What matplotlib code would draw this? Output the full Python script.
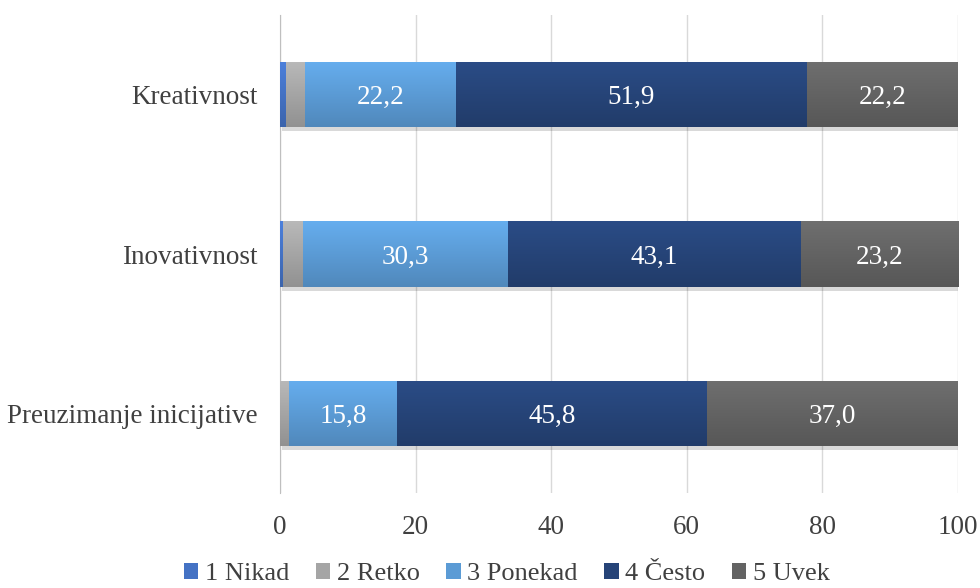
import numpy as np
import matplotlib.pyplot as plt
from matplotlib.colors import to_rgb
from matplotlib import transforms

plt.rcParams['font.family'] = ['Liberation Serif', 'DejaVu Serif']

categories = ["Preuzimanje inicijative", "Inovativnost", "Kreativnost"]
labels = ["1 Nikad", "2 Retko", "3 Ponekad", "4 Često", "5 Uvek"]
nikad = [0.0, 0.5, 0.9]
retko = [1.4, 2.9, 2.8]
ponekad = [15.8, 30.3, 22.2]
cesto = [45.8, 43.1, 51.9]
uvek = [37.0, 23.2, 22.2]
series = [nikad, retko, ponekad, cesto, uvek]
colors = ["#4472c4", "#a5a5a5", "#5b9bd5", "#264478", "#636363"]
show_value = [False, False, True, True, True]

fig = plt.figure(figsize=(9.8, 5.88), dpi=100)
ax = fig.add_axes([280 / 980, 95 / 588, 678 / 980, 478 / 588])

def shade(c, f):
    r = np.array(to_rgb(c))
    return np.clip(r * f, 0, 1)

grad = np.linspace(0, 1, 64)[:, None]
y = np.arange(len(categories))
h = 0.41
left = np.zeros(len(categories))
for vals, col, lab, show in zip(series, colors, labels, show_value):
    vals = np.array(vals)
    # soft drop shadow under each segment
    shadow_tr = ax.transData + transforms.ScaledTranslation(2 / 100, -4 / 100, fig.dpi_scale_trans)
    ax.barh(y, vals, left=left, height=h, color="#000000", alpha=0.15,
            transform=shadow_tr, zorder=1, linewidth=0)
    bars = ax.barh(y, vals, left=left, height=h, color=col, label=lab, zorder=2, linewidth=0)
    top = shade(col, 1.12)
    bot = shade(col, 0.88)
    img = top[None, None, :] * (1 - grad[:, :, None]) + bot[None, None, :] * grad[:, :, None]
    for b in bars:
        if b.get_width() <= 0:
            continue
        x0, y0 = b.get_x(), b.get_y()
        im = ax.imshow(img, extent=(x0, x0 + b.get_width(), y0, y0 + b.get_height()),
                       origin="upper", aspect="auto", zorder=3, interpolation="bilinear")
        im.set_clip_path(b)
    if show:
        for yi, l, v in zip(y, left, vals):
            ax.text(l + v / 2, yi, f"{v:.1f}".replace(".", ","), ha="center",
                    va="center_baseline", color="white", fontsize=19.5, zorder=4)
    left += vals

ax.set_xlim(0, 100)
ax.set_ylim(-0.5, 2.5)
ax.set_xticks(range(0, 101, 20))
ax.set_yticks(y)
ax.set_yticklabels(categories)
ax.xaxis.grid(True, color="#d9d9d9", linewidth=1)
ax.set_axisbelow(True)
for s in ["top", "right", "bottom"]:
    ax.spines[s].set_visible(False)
ax.spines["left"].set_color("#bfbfbf")
ax.tick_params(axis="both", length=0, labelsize=19.5, colors="#404040")
ax.tick_params(axis="y", pad=16)
ax.tick_params(axis="x", pad=16)

handles, labs = ax.get_legend_handles_labels()
leg = fig.legend(handles, labs, loc="center", bbox_to_anchor=(0.517, 1 - 574 / 588), ncol=5,
                 frameon=False, fontsize=19, handlelength=0.55, handleheight=0.55,
                 handletextpad=0.25, columnspacing=1.0, labelcolor="#404040",
                 borderpad=0.1)

fig.savefig("out.png", dpi=100)
